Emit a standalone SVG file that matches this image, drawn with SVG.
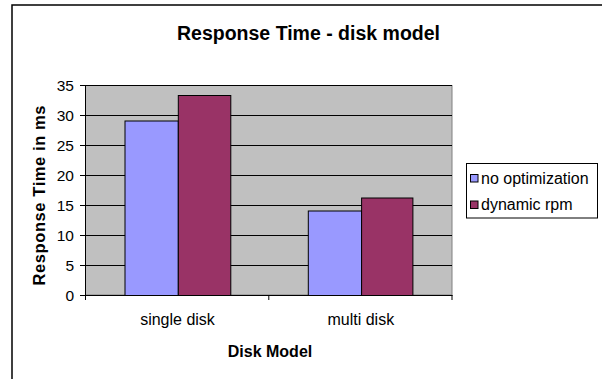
<svg xmlns="http://www.w3.org/2000/svg" width="602" height="379" viewBox="0 0 602 379">
<style>
text{font-family:"Liberation Sans",Arial,sans-serif;fill:#000}
.tick{font-size:15.5px;text-anchor:end}
.cat{font-size:16px;text-anchor:middle}
.ttl{font-weight:bold}
.grid{stroke:#000;stroke-width:1}
.bar{stroke:#000;stroke-width:1}
.s1{fill:#9999FF}
.s2{fill:#993366}
</style>
<rect x="0" y="0" width="602" height="379" fill="#fff"/>
<rect id="frame" x="12" y="5" width="600" height="390" fill="none" stroke="#000" stroke-width="1.5"/>
<text id="title" class="ttl" x="308.5" y="40" font-size="19.5" text-anchor="middle">Response Time - disk model</text>
<g id="plot">
<rect x="85.5" y="85.5" width="366.5" height="209.5" fill="#C0C0C0" stroke="#808080" stroke-width="1"/>
<g class="grid">
<line x1="85.5" y1="85.5" x2="452" y2="85.5"/>
<line x1="85.5" y1="115.5" x2="452" y2="115.5"/>
<line x1="85.5" y1="145.5" x2="452" y2="145.5"/>
<line x1="85.5" y1="175.5" x2="452" y2="175.5"/>
<line x1="85.5" y1="205.5" x2="452" y2="205.5"/>
<line x1="85.5" y1="235.5" x2="452" y2="235.5"/>
<line x1="85.5" y1="265.5" x2="452" y2="265.5"/>
</g>
</g>
<g id="bars">
<rect class="bar s1" x="125" y="121" width="53.3" height="174.5"/>
<rect class="bar s2" x="178.3" y="95.5" width="52.5" height="200"/>
<rect class="bar s1" x="308.3" y="211" width="53.3" height="84.5"/>
<rect class="bar s2" x="361.6" y="198" width="51.3" height="97.5"/>
</g>
<g id="axes" stroke="#000" stroke-width="1">
<line x1="85.5" y1="85" x2="85.5" y2="296"/>
<line x1="85" y1="295.5" x2="452.5" y2="295.5"/>
<line x1="80" y1="85.5" x2="85.5" y2="85.5"/>
<line x1="80" y1="115.5" x2="85.5" y2="115.5"/>
<line x1="80" y1="145.5" x2="85.5" y2="145.5"/>
<line x1="80" y1="175.5" x2="85.5" y2="175.5"/>
<line x1="80" y1="205.5" x2="85.5" y2="205.5"/>
<line x1="80" y1="235.5" x2="85.5" y2="235.5"/>
<line x1="80" y1="265.5" x2="85.5" y2="265.5"/>
<line x1="80" y1="295.5" x2="85.5" y2="295.5"/>
<line x1="85.5" y1="295" x2="85.5" y2="300"/>
<line x1="268.8" y1="295" x2="268.8" y2="300"/>
<line x1="452" y1="295" x2="452" y2="300"/>
</g>
<g id="ylabels">
<text class="tick" x="74" y="91">35</text>
<text class="tick" x="74" y="121">30</text>
<text class="tick" x="74" y="151">25</text>
<text class="tick" x="74" y="181">20</text>
<text class="tick" x="74" y="211">15</text>
<text class="tick" x="74" y="241">10</text>
<text class="tick" x="74" y="271">5</text>
<text class="tick" x="74" y="301">0</text>
</g>
<g id="xlabels">
<text class="cat" x="177.5" y="325">single disk</text>
<text class="cat" x="360.8" y="325">multi disk</text>
</g>
<text id="xtitle" class="ttl" x="270" y="356.5" font-size="16" text-anchor="middle">Disk Model</text>
<text id="ytitle" class="ttl" font-size="16.5" text-anchor="middle" textLength="180" lengthAdjust="spacing" transform="translate(45,195.5) rotate(-90)">Response Time in ms</text>
<g id="legend">
<rect x="466.5" y="163.5" width="131" height="54.5" fill="#fff" stroke="#000" stroke-width="1"/>
<rect class="bar s1" x="470.5" y="174.5" width="7.5" height="7.5"/>
<text x="481" y="183.5" font-size="16">no optimization</text>
<rect class="bar s2" x="470.5" y="201" width="7.5" height="7.5"/>
<text x="481" y="210" font-size="16">dynamic rpm</text>
</g>
</svg>
